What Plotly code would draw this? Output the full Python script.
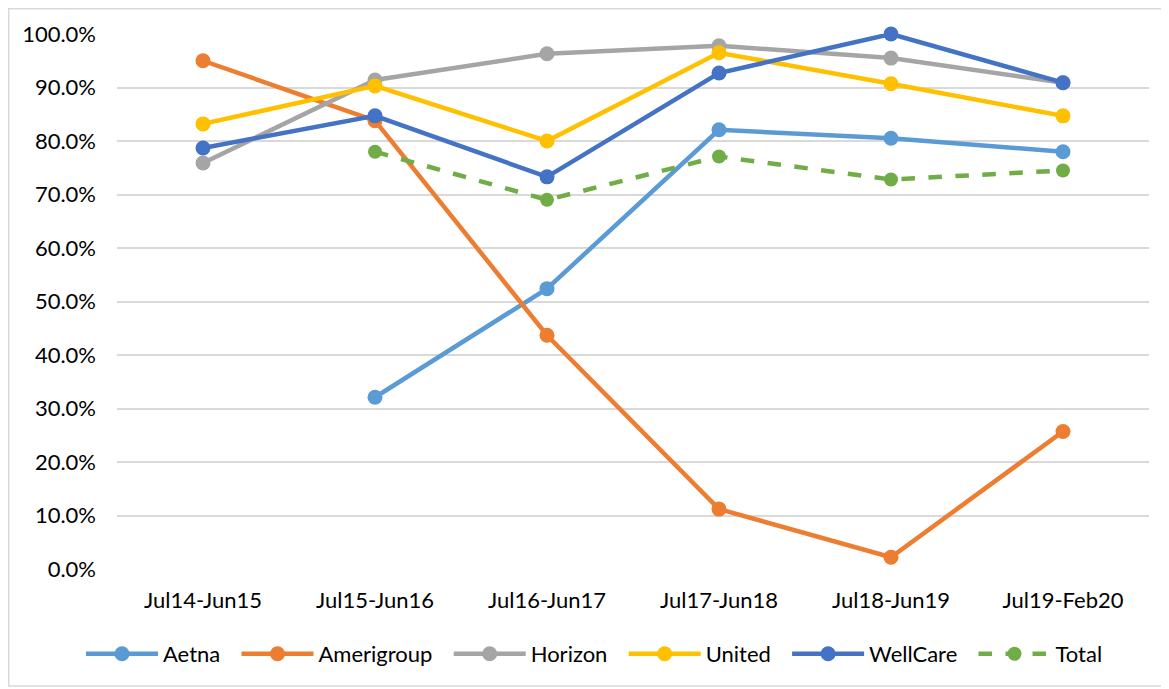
import plotly.graph_objects as go

categories = ["Jul14-Jun15", "Jul15-Jun16", "Jul16-Jun17", "Jul17-Jun18", "Jul18-Jun19", "Jul19-Feb20"]
aetna = [None, 0.321, 0.524, 0.821, 0.805, 0.780]
amerigroup = [0.950, 0.838, 0.437, 0.112, 0.022, 0.257]
horizon = [0.759, 0.914, 0.963, 0.978, 0.955, 0.909]
united = [0.832, 0.903, 0.800, 0.965, 0.907, 0.847]
wellcare = [0.787, 0.847, 0.733, 0.927, 1.000, 0.909]
total = [None, 0.780, 0.690, 0.771, 0.728, 0.745]

series = [
    ("Aetna", aetna, "#5B9BD5", "solid"),
    ("Amerigroup", amerigroup, "#ED7D31", "solid"),
    ("Horizon", horizon, "#A5A5A5", "solid"),
    ("United", united, "#FFC000", "solid"),
    ("WellCare", wellcare, "#4472C4", "solid"),
    ("Total", total, "#70AD47", "dash"),
]

fig = go.Figure()
for name, vals, color, dash in series:
    fig.add_trace(go.Scatter(
        x=categories, y=vals, name=name + "\u00a0\u00a0", mode="lines+markers",
        line=dict(color=color, width=4.5, dash=dash),
        marker=dict(color=color, size=15 if dash == "solid" else 14),
        cliponaxis=False, connectgaps=False,
    ))

# page has an 8px body margin; figure sized to fit the 1169x689 window
W, H = 1161, 681
ml, mr, mt, mb = 109, 20, 26, 120
pw = W - ml - mr
ph = H - mt - mb
fig.update_layout(
    width=W, height=H,
    margin=dict(l=ml, r=mr, t=mt, b=mb, autoexpand=False),
    paper_bgcolor="white", plot_bgcolor="white",
    font=dict(family="Lato, Noto Sans, sans-serif", size=22, color="#000000"),
    showlegend=True,
    legend=dict(orientation="h", x=(73 - ml) / pw, xanchor="left",
                y=(H - mb - 646) / ph, yanchor="middle",
                font=dict(size=22), tracegroupgap=0, itemwidth=72),
    xaxis=dict(type="category", range=[-0.5, 5.5], showgrid=False, showline=False,
               zeroline=False, ticks="", tickfont=dict(size=22), ticklabelstandoff=16),
    yaxis=dict(range=[0, 1], dtick=0.1, tickformat=".1%", showgrid=True,
               gridcolor="#D9D9D9", gridwidth=1.5, zeroline=False, showline=False,
               ticks="", tickfont=dict(size=22), ticklabelstandoff=20),
)

fx0, fx1, fy0, fy1 = 0.75, 1156, 0.75, 678
fig.add_shape(type="rect", xref="paper", yref="paper",
              x0=(fx0 - ml) / pw, x1=(fx1 - ml) / pw,
              y0=(H - mb - fy1) / ph, y1=(H - mb - fy0) / ph,
              line=dict(color="#D9D9D9", width=1.5), fillcolor="rgba(0,0,0,0)", layer="below")

fig.write_html("out.html")
